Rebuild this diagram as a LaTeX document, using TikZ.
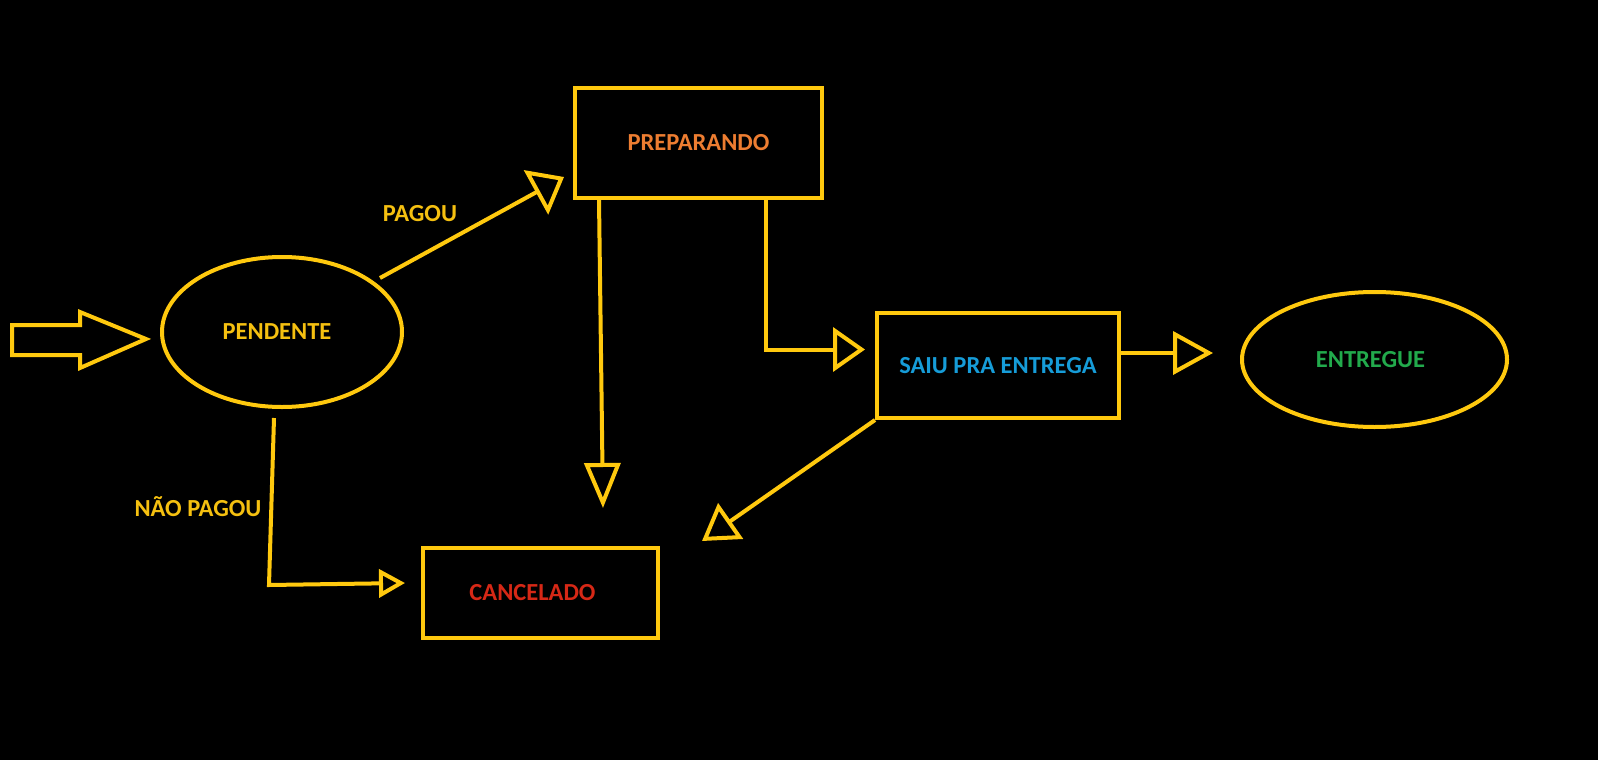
\documentclass[tikz,border=0pt]{standalone}
\usepackage{fontspec}
\setmainfont{Carlito}
\usetikzlibrary{arrows.meta,calc,shapes.geometric}
\definecolor{lineyel}{RGB}{255,201,14}
\definecolor{goldtxt}{RGB}{245,192,16}
\definecolor{orangetxt}{RGB}{237,125,49}
\definecolor{bluetxt}{RGB}{22,156,216}
\definecolor{greentxt}{RGB}{34,170,76}
\definecolor{redtxt}{RGB}{214,40,22}
\tikzset{
  every node/.style={font=\fontsize{24.5}{27}\selectfont\bfseries},
  stateell/.style={ellipse, draw=lineyel, line width=4pt, inner sep=0pt},
  statebox/.style={rectangle, draw=lineyel, line width=4pt, inner sep=0pt},
  conn/.style={draw=lineyel, line width=4pt},
  lbl/.style={text=goldtxt, inner sep=0pt}
}
\begin{document}
\begin{tikzpicture}[x=1pt,y=-1pt]
\fill[black] (0,0) rectangle (1598,760);
\useasboundingbox (0,0) rectangle (1598,760);

% states
\node[stateell, minimum width=240pt, minimum height=150pt, text=goldtxt] (pend) at (282,332) {\hspace*{-10pt}PENDENTE};
\node[statebox, minimum width=247pt, minimum height=110pt, text=orangetxt] (prep) at (698.5,143) {PREPARANDO};
\node[statebox, minimum width=242pt, minimum height=105pt, text=bluetxt] (saiu) at (998,365.5) {SAIU PRA ENTREGA};
\node[stateell, minimum width=265pt, minimum height=135pt, text=greentxt] (entr) at (1374.5,359.5) {\hspace*{-8pt}ENTREGUE};
\node[statebox, minimum width=235pt, minimum height=90pt, text=redtxt] (canc) at (540.5,593) {\hspace*{-16pt}CANCELADO};

% labels
\node[lbl] (lpagou) at (420,214) {PAGOU};
\node[lbl] (lnaopagou) at (198,507) {NÃO PAGOU};

% entry block arrow
\coordinate (intip) at ($(pend.west)+(-14,7)$);
\draw[conn] (12,325) -- (80,325) -- (80,312) -- (intip) -- (80,368) -- (80,355) -- (12,355) -- cycle;

% connectors
\draw[conn, -{Triangle[open,length=32pt,width=50pt]}]
  ($(pend.center)+(98,-54)$) -- ($(prep.west)+(-9,34)$);
\draw[conn, -{Triangle[open,length=45pt,width=36pt]}]
  ($(prep.south west)+(26,0)$) -- ($(canc.north west)+(182,-38)$);
\draw[conn, -{Triangle[open,length=32pt,width=44pt]}]
  ($(prep.south west)+(193,0)$) |- ($(saiu.west)+(-10,-16)$);
\draw[conn, -{Triangle[open,length=40pt,width=43pt]}]
  ($(saiu.east)+(0,-12.5)$) -- ($(entr.west)+(-27,-6.5)$);
\draw[conn, -{Triangle[open,length=26pt,width=28pt]}]
  ($(pend.south)+(-8,9)$) -- ++(-5,167) -- ($(canc.west)+(-16,-10)$);
\draw[conn, -{Triangle[open,length=35pt,width=43pt]}]
  (saiu.south west) -- ($(canc.north east)+(42,-5)$);
\end{tikzpicture}
\end{document}
